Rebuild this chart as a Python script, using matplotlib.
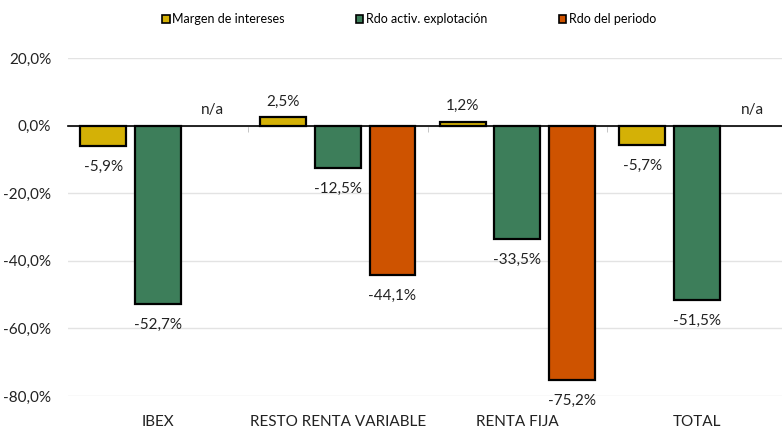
import matplotlib.pyplot as plt
import numpy as np
from matplotlib.patches import Patch
import matplotlib.transforms as mtransforms

plt.rcParams['font.family'] = ['Lato', 'DejaVu Sans']

categorias = ['IBEX', 'RESTO RENTA VARIABLE', 'RENTA FIJA', 'TOTAL']
series = ['Margen de intereses', 'Rdo activ. explotación', 'Rdo del periodo']
margen = [-5.9, 2.5, 1.2, -5.7]
rdo_explot = [-52.7, -12.5, -33.5, -51.5]
rdo_periodo = [None, -44.1, -75.2, None]
colores = ['#D4B106', '#3D7E5A', '#CE5300']

fig = plt.figure(figsize=(7.82, 4.30), dpi=100)
ax = fig.add_axes([0.087, 0.079, 0.913, 0.786])

x = np.arange(len(categorias))
ancho = 0.255
desp = [-0.305, 0, 0.305]

def fmt(v):
    return f"{v:.1f}".replace('.', ',') + '%'

for i, datos in enumerate([margen, rdo_explot, rdo_periodo]):
    for xi, v in zip(x, datos):
        xp = xi + desp[i]
        if v is None:
            ax.annotate('n/a', (xp, 0), xytext=(0, 6), textcoords='offset points',
                        ha='center', va='bottom', fontsize=11, color='#222222')
            continue
        ax.bar(xp, v, width=ancho, color=colores[i], edgecolor='black', linewidth=1.6, zorder=3)
        if v >= 0:
            ax.annotate(fmt(v), (xp, v), xytext=(0, 6), textcoords='offset points',
                        ha='center', va='bottom', fontsize=11, color='#222222')
        else:
            ax.annotate(fmt(v), (xp, v), xytext=(0, -10), textcoords='offset points',
                        ha='center', va='top', fontsize=11, color='#222222')

ax.set_ylim(-80, 20)
ax.set_xlim(-0.5, 3.472)
ax.set_yticks(np.arange(-80, 21, 20))
ax.set_yticklabels([fmt(v) for v in np.arange(-80, 21, 20)], fontsize=11, color='#222222')
ax.tick_params(axis='y', length=0, pad=12)
ax.grid(axis='y', color='#E3E3E3', linewidth=1, zorder=0)

for s in ['top', 'right', 'left']:
    ax.spines[s].set_visible(False)
ax.spines['bottom'].set_position(('data', 0))
ax.spines['bottom'].set_color('black')
ax.spines['bottom'].set_linewidth(1.2)
ax.spines['bottom'].set_zorder(4)
ax.set_xticks(x)
ax.set_xticklabels([])
ax.tick_params(axis='x', which='major', length=0)
ax.set_xticks(x[:-1] + 0.5, minor=True)
ax.tick_params(axis='x', which='minor', length=4, color='#BBBBBB', direction='out')

trans = mtransforms.blended_transform_factory(ax.transData, ax.transAxes)
for xi, c in zip(x, categorias):
    ax.text(xi, -0.055, c, transform=trans, ha='center', va='top', fontsize=11, color='#222222')

handles = [Patch(facecolor=c, edgecolor='black', linewidth=1.2) for c in colores]
fig.legend(handles, series, loc='center', bbox_to_anchor=(0.523, 0.955), ncol=3,
           frameon=False, fontsize=9, handlelength=0.6, handleheight=0.6,
           handletextpad=0.2, columnspacing=5.7)

fig.savefig('out.png', dpi=100)
